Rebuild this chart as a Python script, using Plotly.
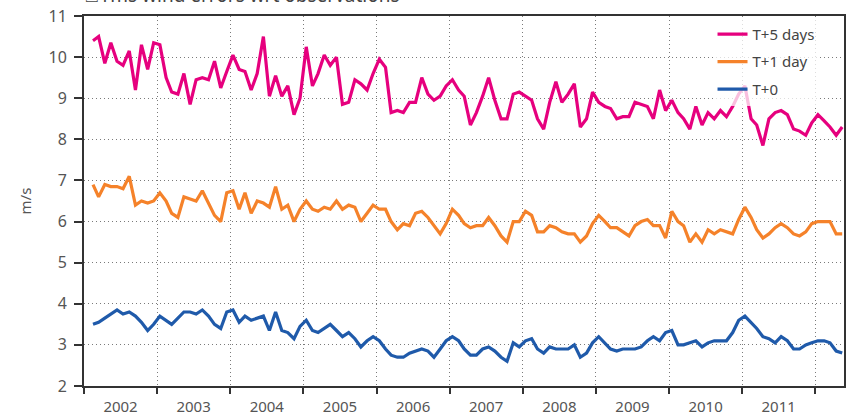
import pandas as pd
import plotly.graph_objects as go

# Monthly rms wind error (m/s), Feb 2002 .. May 2012
start_month = "2002-02-01"

t5_days = [
    10.4, 10.5, 9.85, 10.35, 9.9, 9.8, 10.15, 9.2, 10.3, 9.7, 10.35,
    10.3, 9.5, 9.15, 9.1, 9.6, 8.85, 9.45, 9.5, 9.45, 9.9, 9.25, 9.65,
    10.05, 9.7, 9.65, 9.2, 9.6, 10.5, 9.05, 9.55, 9.05, 9.3, 8.6, 9.0,
    10.25, 9.3, 9.6, 10.05, 9.8, 10.0, 8.85, 8.9, 9.45, 9.35, 9.2, 9.6,
    9.95, 9.75, 8.65, 8.7, 8.65, 8.9, 8.9, 9.5, 9.1, 8.95, 9.05, 9.3,
    9.45, 9.2, 9.05, 8.35, 8.65, 9.05, 9.5, 8.95, 8.5, 8.5, 9.1, 9.15,
    9.05, 8.95, 8.5, 8.25, 8.9, 9.4, 8.9, 9.1, 9.35, 8.3, 8.5, 9.15,
    8.9, 8.8, 8.75, 8.5, 8.55, 8.55, 8.9, 8.85, 8.8, 8.5, 9.2, 8.7,
    8.95, 8.65, 8.5, 8.25, 8.8, 8.35, 8.65, 8.5, 8.7, 8.55, 8.8, 9.1,
    9.3, 8.5, 8.35, 7.85, 8.5, 8.65, 8.7, 8.6, 8.25, 8.2, 8.1, 8.4,
    8.6, 8.45, 8.3, 8.1, 8.3,
]

t1_day = [
    6.9, 6.6, 6.9, 6.85, 6.85, 6.8, 7.1, 6.4, 6.5, 6.45, 6.5,
    6.7, 6.5, 6.2, 6.1, 6.6, 6.55, 6.5, 6.75, 6.45, 6.15, 6.0, 6.7,
    6.75, 6.3, 6.7, 6.2, 6.5, 6.45, 6.35, 6.85, 6.3, 6.4, 6.0, 6.3,
    6.5, 6.3, 6.25, 6.35, 6.3, 6.5, 6.3, 6.4, 6.35, 6.0, 6.2, 6.4,
    6.3, 6.3, 6.0, 5.8, 5.95, 5.9, 6.2, 6.25, 6.1, 5.9, 5.7, 5.95,
    6.3, 6.15, 5.95, 5.85, 5.9, 5.9, 6.1, 5.9, 5.65, 5.5, 6.0, 6.0,
    6.25, 6.15, 5.75, 5.75, 5.9, 5.85, 5.75, 5.7, 5.7, 5.5, 5.65, 5.95,
    6.15, 6.0, 5.85, 5.85, 5.75, 5.65, 5.9, 6.0, 6.05, 5.9, 5.9, 5.6,
    6.25, 6.0, 5.9, 5.5, 5.7, 5.5, 5.8, 5.7, 5.8, 5.75, 5.7, 6.05,
    6.35, 6.1, 5.8, 5.6, 5.7, 5.85, 5.95, 5.85, 5.7, 5.65, 5.75, 5.95,
    6.0, 6.0, 6.0, 5.7, 5.7,
]

t0 = [
    3.5, 3.55, 3.65, 3.75, 3.85, 3.75, 3.8, 3.7, 3.55, 3.35, 3.5,
    3.7, 3.6, 3.5, 3.65, 3.8, 3.8, 3.75, 3.85, 3.7, 3.5, 3.4, 3.8,
    3.85, 3.55, 3.7, 3.6, 3.65, 3.7, 3.35, 3.8, 3.35, 3.3, 3.15, 3.45,
    3.6, 3.35, 3.3, 3.4, 3.5, 3.35, 3.2, 3.3, 3.15, 2.95, 3.1, 3.2,
    3.1, 2.9, 2.75, 2.7, 2.7, 2.8, 2.85, 2.9, 2.85, 2.7, 2.9, 3.1,
    3.2, 3.1, 2.9, 2.75, 2.75, 2.9, 2.95, 2.85, 2.7, 2.6, 3.05, 2.95,
    3.1, 3.15, 2.9, 2.8, 2.95, 2.9, 2.9, 2.9, 3.0, 2.7, 2.8, 3.05,
    3.2, 3.05, 2.9, 2.85, 2.9, 2.9, 2.9, 2.95, 3.1, 3.2, 3.1, 3.3,
    3.35, 3.0, 3.0, 3.05, 3.1, 2.95, 3.05, 3.1, 3.1, 3.1, 3.3, 3.6,
    3.7, 3.55, 3.4, 3.2, 3.15, 3.05, 3.2, 3.1, 2.9, 2.9, 3.0, 3.05,
    3.1, 3.1, 3.05, 2.85, 2.8,
]

series_names = ["T+5 days", "T+1 day", "T+0"]
series_colors = ["#e6007e", "#f5822a", "#1f5aaa"]

# monthly values plotted at mid-month
dates = pd.date_range(start_month, periods=len(t0), freq="MS") + pd.Timedelta(days=14)

FONT = "Noto Sans"
fig = go.Figure()
for name, vals, col in zip(series_names, [t5_days, t1_day, t0], series_colors):
    fig.add_trace(go.Scatter(
        x=dates, y=vals, mode="lines", name=name, legendgroup=name,
        line=dict(color=col, width=3.2),
    ))

fig.update_layout(
    width=849, height=419,
    margin=dict(l=84, r=3, t=16, b=28),
    paper_bgcolor="white", plot_bgcolor="white",
    font=dict(family=FONT, size=15, color="#555555"),
    showlegend=True,
    legend=dict(
        x=0.827, y=0.995, xanchor="left", yanchor="top",
        bgcolor="rgba(255,255,255,0.75)", borderwidth=0,
        font=dict(family=FONT, size=15, color="#444444"),
        tracegroupgap=5,
    ),
    xaxis=dict(
        type="date",
        range=["2002-01-01", "2012-05-24"],
        tick0="2002-01-01", dtick="M12", tickformat="%Y",
        ticklabelmode="period",
        ticks="outside", ticklen=6, tickwidth=2, tickcolor="#333333",
        showline=True, linecolor="#333333", linewidth=2, mirror=True,
        showgrid=True, gridcolor="#7a7a7a", griddash="1px,3px", gridwidth=1,
        zeroline=False,
        tickfont=dict(size=15, color="#555555"),
    ),
    yaxis=dict(
        range=[2, 11], dtick=1, tick0=2,
        ticks="outside", ticklen=8, tickwidth=1.5, tickcolor="#333333",
        ticklabelstandoff=4,
        showline=True, linecolor="#333333", linewidth=2, mirror=True,
        showgrid=True, gridcolor="#7a7a7a", griddash="1px,3px", gridwidth=1,
        zeroline=False,
        tickfont=dict(size=16, color="#555555"),
        title=dict(text="m/s", standoff=13, font=dict(size=15, color="#555555")),
    ),
)

fig.add_annotation(
    text="\u25a1 rms wind errors wrt observations",
    xref="paper", yref="paper", x=0.0, y=1.016,
    xanchor="left", yanchor="bottom", showarrow=False,
    font=dict(family=FONT, size=19, color="#444444"),
)

fig.write_html("out.html")
